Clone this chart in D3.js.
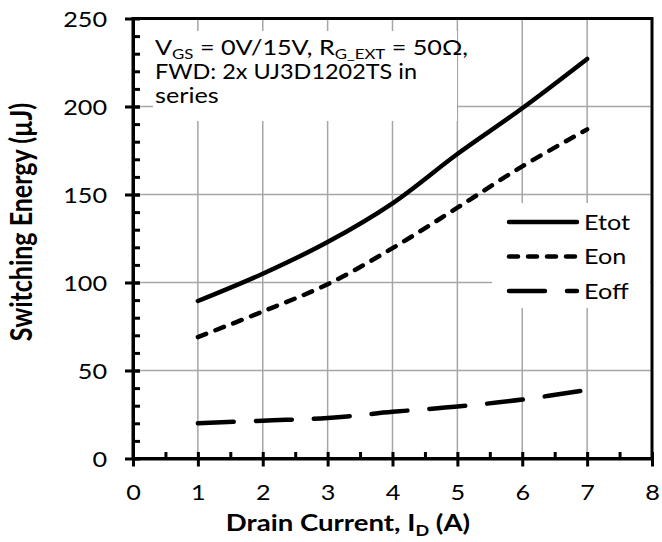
<!DOCTYPE html>
<html lang="en">
  <head>
    <meta charset="utf-8">
    <title>Switching Energy vs Drain Current</title>
    <script src="https://cdnjs.cloudflare.com/ajax/libs/d3/7.8.5/d3.min.js"></script>
  </head>

  <style media="screen">
    body {
      margin: 0;
      background: white;
    }
    text {
      font-family: Lato, "Open Sans", Arial, sans-serif;
      fill: black;
    }
    .grid line {
      stroke: #a6a6a6;
      stroke-width: 1.5;
    }
    .axis path, .axis line {
      stroke: black;
      stroke-width: 3;
    }
    .curve {
      fill: none;
      stroke: black;
      stroke-width: 4.5;
      stroke-linecap: round;
      stroke-linejoin: round;
    }
  </style>

  <body>
    <script type="text/javascript">
      // Data.
      const current = [1, 2, 3, 4, 5, 6, 7];
      const etot = [89.5, 105, 123, 145, 173, 199, 227];
      const eon = [69, 83.5, 99, 119.5, 142.5, 166, 187];
      const eoff = [20, 21.5, 23, 26.5, 29.5, 33.5, 39];

      const seriesNames = ["Etot", "Eon", "Eoff"];
      const seriesValues = [etot, eon, eoff];
      const dashes = [null, "9,10", "36,22"];

      const xTicks = [0, 1, 2, 3, 4, 5, 6, 7, 8];
      const yTicks = [0, 50, 100, 150, 200, 250];

      const w = 662;
      const h = 542;
      const padL = 133, padR = 652, padT = 18.5, padB = 458.5;
      // the reference text is a bit wider than Lato, so stretch it sideways
      const sx = 1.2;

      const xScale = d3.scaleLinear().domain([0, 8]).range([padL, padR]);
      const yScale = d3.scaleLinear().domain([0, 250]).range([padB, padT]);

      const svg = d3.select("body")
                    .append("svg")
                    .attr("width", w)
                    .attr("height", h);

      // gridlines
      const grid = svg.append("g").attr("class", "grid");
      grid.selectAll("line.v")
          .data(xTicks.slice(1, -1))
          .enter()
          .append("line")
          .attr("class", "v")
          .attr("x1", d => xScale(d))
          .attr("x2", d => xScale(d))
          .attr("y1", padT)
          .attr("y2", padB);
      grid.selectAll("line.h")
          .data(yTicks.slice(1, -1))
          .enter()
          .append("line")
          .attr("class", "h")
          .attr("x1", padL)
          .attr("x2", padR)
          .attr("y1", d => yScale(d))
          .attr("y2", d => yScale(d));

      // white boxes behind the note and the legend
      svg.append("rect")
         .attr("x", 153).attr("y", 31)
         .attr("width", 304).attr("height", 90)
         .attr("fill", "white");
      svg.append("rect")
         .attr("x", 492).attr("y", 203)
         .attr("width", 158).attr("height", 105)
         .attr("fill", "white");

      // curves
      const line = d3.line()
                     .x((d, i) => xScale(current[i]))
                     .y(d => yScale(d))
                     .curve(d3.curveCatmullRom.alpha(0.5));

      svg.selectAll("path.curve")
         .data(seriesValues)
         .enter()
         .append("path")
         .attr("class", "curve")
         .attr("d", d => line(d))
         .attr("stroke-dasharray", (d, i) => dashes[i]);

      // minor ticks (inside)
      svg.append("g")
         .attr("class", "axis")
         .attr("transform", "translate(0," + padB + ")")
         .call(d3.axisBottom(xScale).tickValues(d3.range(0.5, 8, 1)).tickSize(-6.5).tickFormat(""))
         .select(".domain").remove();
      svg.append("g")
         .attr("class", "axis")
         .attr("transform", "translate(" + padL + ",0)")
         .call(d3.axisLeft(yScale).tickValues(d3.range(10, 250, 10)).tickSize(-7).tickFormat(""))
         .select(".domain").remove();

      // frame
      svg.append("rect")
         .attr("x", padL).attr("y", padT)
         .attr("width", padR - padL).attr("height", padB - padT)
         .attr("fill", "none")
         .attr("stroke", "black")
         .attr("stroke-width", 3);

      // major axes
      const xAxis = svg.append("g")
                       .attr("class", "axis")
                       .attr("transform", "translate(0," + padB + ")")
                       .call(d3.axisBottom(xScale).tickValues(xTicks).tickSize(8).tickSizeOuter(0).tickPadding(19));
      xAxis.selectAll(".tick line").attr("y1", -6.5);
      xAxis.selectAll("text")
           .style("font-size", "21px")
           .attr("font-family", "Lato")
           .attr("transform", "scale(" + sx + ",1)");

      const yAxis = svg.append("g")
                       .attr("class", "axis")
                       .attr("transform", "translate(" + padL + ",0)")
                       .call(d3.axisLeft(yScale).tickValues(yTicks).tickSize(8).tickSizeOuter(0));
      yAxis.selectAll(".tick line").attr("x1", 7);
      yAxis.selectAll("text")
           .style("font-size", "21px")
           .attr("font-family", "Lato")
           .attr("x", -26 / sx)
           .attr("dy", "0.4em")
           .attr("transform", "scale(" + sx + ",1)");

      // axis titles
      svg.append("text")
         .attr("transform", "translate(348,531) scale(" + sx + ",1)")
         .attr("text-anchor", "middle")
         .style("font-size", "23px")
         .style("font-weight", "bold")
         .call(t => {
           t.append("tspan").text("Drain Current, I");
           t.append("tspan").text("D").style("font-size", "15px").attr("dy", 5);
           t.append("tspan").text(" (A)").attr("dy", -5);
         });

      svg.append("text")
         .attr("transform", "translate(21,222) scale(" + sx + ",1) rotate(-90)")
         .attr("text-anchor", "middle")
         .attr("dy", "0.35em")
         .style("font-size", "25px")
         .style("font-weight", "bold")
         .text("Switching Energy (\u00b5J)");

      // note
      const noteLines = svg.append("g")
                           .attr("transform", "translate(155,0) scale(" + sx + ",1)")
                           .style("font-size", "21px");
      const note = noteLines.append("text").attr("x", 0).attr("y", 55);
      note.append("tspan").text("V");
      note.append("tspan").text("GS").style("font-size", "14px").attr("dy", 4);
      note.append("tspan").text(" = 0V/15V, R").attr("dy", -4);
      note.append("tspan").text("G_EXT").style("font-size", "14px").attr("dy", 4);
      note.append("tspan").text(" = 50\u03a9,").attr("dy", -4);
      noteLines.append("text")
               .attr("x", 0).attr("y", 79)
               .attr("textLength", 262 / sx)
               .attr("lengthAdjust", "spacingAndGlyphs")
               .text("FWD: 2x UJ3D1202TS in");
      noteLines.append("text").attr("x", 0).attr("y", 103).text("series");

      // legend
      const legend = svg.append("g");
      seriesNames.forEach((name, i) => {
        const ly = 222 + i * 34.5;
        legend.append("line")
              .attr("class", "curve")
              .attr("x1", 509).attr("x2", 577)
              .attr("y1", ly).attr("y2", ly)
              .attr("stroke-dasharray", dashes[i]);
        legend.append("text")
              .attr("transform", "translate(584," + ly + ") scale(" + sx + ",1)")
              .attr("dy", "0.36em")
              .style("font-size", "21px")
              .text(name);
      });
    </script>
  </body>
</html>
